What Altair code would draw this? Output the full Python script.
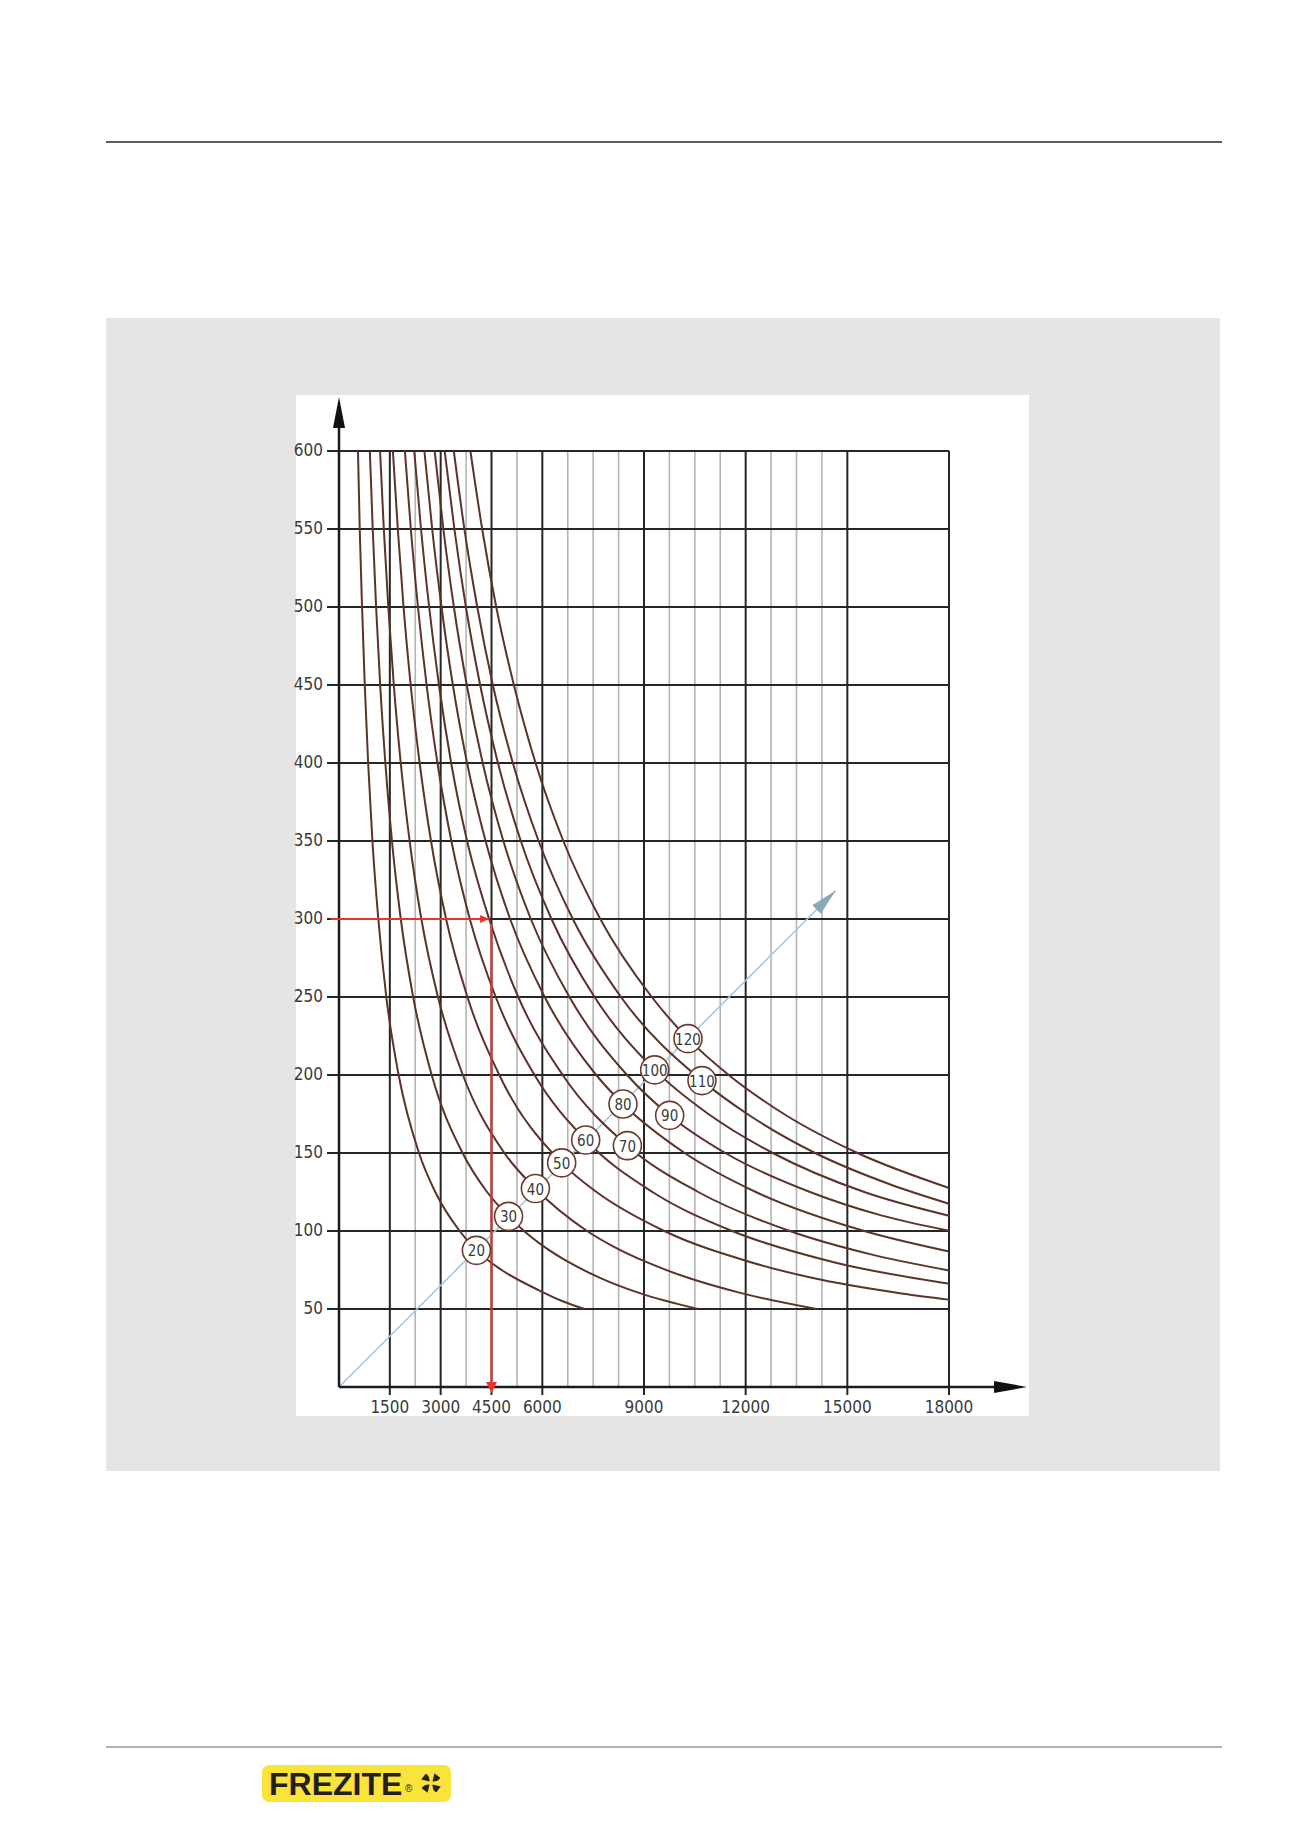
import altair as alt
import pandas as pd

# ---------------- data ----------------
SPEEDS = [20, 30, 40, 50, 60, 70, 80, 90, 100, 110, 120]

C20_D = [600, 550, 500, 450, 400, 350, 300, 250, 200, 150, 125, 100, 87.6, 75, 62, 55, 50]
C20_RPM = [560, 612, 680, 760, 860, 986, 1160, 1396, 1760, 2360, 2840, 3560, 4054, 4800, 5900, 6600, 7250]
C30_D = [600, 550, 500, 450, 400, 350, 300, 250, 200, 150, 125, 109.4, 100, 90, 80, 70, 60, 50]
C30_RPM = [910, 995, 1095, 1215, 1368, 1563, 1823, 2188, 2735, 3647, 4370, 5003, 5460, 6050, 6780, 7700, 8900, 10594]
C40_D = [600, 550, 500, 450, 400, 350, 300, 250, 200, 150, 127.2, 100, 90, 80, 70, 60, 50]
C40_RPM = [1212, 1322, 1455, 1617, 1822, 2084, 2430, 2920, 3655, 4880, 5796, 7320, 8100, 9080, 10300, 11900, 14088]
C50_D = [600, 550, 500, 450, 400, 350, 300, 250, 200, 143.7, 125, 100, 80, 70, 60, 56]
C50_RPM = [1590, 1735, 1905, 2115, 2380, 2715, 3160, 3790, 4730, 6571, 7600, 9600, 12150, 13950, 16600, 18000]
C60_D = [600, 550, 500, 450, 400, 350, 300, 250, 200, 158.3, 125, 100, 80, 66.2]
C60_RPM = [1944, 2120, 2330, 2585, 2905, 3315, 3860, 4625, 5770, 7279, 9250, 11600, 14600, 18000]
C70_D = [600, 550, 500, 450, 400, 350, 300, 250, 200, 154.7, 125, 100, 85, 74.7]
C70_RPM = [2220, 2420, 2660, 2950, 3310, 3780, 4430, 5290, 6600, 8510, 10600, 13300, 15700, 18000]
C80_D = [600, 550, 500, 450, 400, 350, 300, 250, 200, 181.4, 150, 125, 100, 86.9]
C80_RPM = [2520, 2750, 3025, 3360, 3780, 4325, 5050, 6070, 7590, 8380, 10200, 12300, 15500, 18000]
C90_D = [600, 550, 500, 450, 400, 350, 300, 250, 200, 174.1, 150, 125, 110, 100.2]
C90_RPM = [2823, 3080, 3390, 3770, 4240, 4850, 5660, 6800, 8500, 9758, 11400, 13900, 16000, 18000]
C100_D = [600, 550, 500, 450, 400, 350, 300, 250, 203.3, 175, 150, 125, 109.8]
C100_RPM = [3118, 3405, 3745, 4165, 4690, 5365, 6270, 7540, 9315, 10900, 12800, 15500, 18000]
C110_D = [600, 550, 500, 450, 400, 350, 300, 250, 196.4, 175, 150, 130, 117.5]
C110_RPM = [3387, 3700, 4080, 4540, 5130, 5890, 6900, 8320, 10711, 12050, 14050, 16250, 18000]
C120_D = [600, 550, 500, 450, 400, 350, 300, 250, 223.3, 200, 175, 150, 127.6]
C120_RPM = [3877, 4225, 4640, 5160, 5800, 6620, 7710, 9230, 10298, 11500, 13130, 15300, 18000]

CURVE_D = [C20_D, C30_D, C40_D, C50_D, C60_D, C70_D, C80_D, C90_D, C100_D, C110_D, C120_D]
CURVE_RPM = [C20_RPM, C30_RPM, C40_RPM, C50_RPM, C60_RPM, C70_RPM, C80_RPM, C90_RPM,
             C100_RPM, C110_RPM, C120_RPM]

LABEL_RPM = [4054, 5003, 5796, 6571, 7279, 8510, 8380, 9758, 9315, 10711, 10298]
LABEL_D = [87.6, 109.4, 127.2, 143.7, 158.3, 154.7, 181.4, 174.1, 203.3, 196.4, 223.3]

Y_TICKS = [50, 100, 150, 200, 250, 300, 350, 400, 450, 500, 550, 600]
X_TICKS = [1500, 3000, 4500, 6000, 9000, 12000, 15000, 18000]
X_MINOR = [2250, 3750, 5250, 6750, 7500, 8250, 9750, 10500, 11250, 12750, 13500, 14250]

DIAG_RPM = [0, 14657]
DIAG_D = [0, 318.3]

RED_H_RPM = [-250, 4430]
RED_H_D = [300, 300]
RED_V_RPM = [4500, 4500]
RED_V_D = [297, 0]

# ---------------- styling ----------------
W, H = 610, 936
NARROW = "Liberation Sans Narrow, DejaVu Sans Condensed, Arial Narrow, sans-serif"
BROWN = "#5c3329"
DARK = "#262626"
LIGHT = "#b4b4b4"
RED = "#e8322b"
TEXT = "#3a3a3a"

xs = alt.Scale(domain=[0, 18000], nice=False, zero=False)
ys = alt.Scale(domain=[0, 600], nice=False, zero=False)


def X(f="rpm"):
    return alt.X(f"{f}:Q", scale=xs, axis=None)


def Y(f="d"):
    return alt.Y(f"{f}:Q", scale=ys, axis=None)


one = pd.DataFrame({"k": [0]})


def arrow_path(length, half_width):
    r = length / 2.0
    hw = half_width / r
    return f"M0,0L{hw:.4f},2L{-hw:.4f},2Z", length * length


layers = []

# gray panel, white box, page rules
layers.append(alt.Chart(one).mark_rect(color="#e5e5e5").encode(
    x=alt.value(-233), x2=alt.value(881), y=alt.value(-133), y2=alt.value(1020)))
layers.append(alt.Chart(one).mark_rect(color="white").encode(
    x=alt.value(-43), x2=alt.value(690), y=alt.value(-56), y2=alt.value(965)))
layers.append(alt.Chart(one).mark_rule(color="#5e5e5e", strokeWidth=2).encode(
    x=alt.value(-233), x2=alt.value(883), y=alt.value(-309)))
layers.append(alt.Chart(one).mark_rule(color="#9a9a9a", strokeWidth=1.5).encode(
    x=alt.value(-233), x2=alt.value(883), y=alt.value(1296)))

# grid
minor_df = pd.DataFrame({"rpm": X_MINOR})
layers.append(alt.Chart(minor_df).mark_rule(color=LIGHT, strokeWidth=1.6).encode(
    x=X(), y=alt.value(0), y2=alt.value(H)))
major_df = pd.DataFrame({"rpm": X_TICKS, "label": [str(v) for v in X_TICKS]})
layers.append(alt.Chart(major_df).mark_rule(color=DARK, strokeWidth=2).encode(
    x=X(), y=alt.value(0), y2=alt.value(H + 8)))
ygrid_df = pd.DataFrame({"d": Y_TICKS, "label": [str(v) for v in Y_TICKS]})
layers.append(alt.Chart(ygrid_df).mark_rule(color=DARK, strokeWidth=2).encode(
    y=Y(), x=alt.value(-12), x2=alt.value(W)))

# diagonal guide
diag_df = pd.DataFrame({"rpm": DIAG_RPM, "d": DIAG_D})
layers.append(alt.Chart(diag_df).mark_line(color="#a8c8d8", strokeWidth=1.6).encode(
    x=X(), y=Y()))
p, s = arrow_path(27, 6)
layers.append(alt.Chart(diag_df.tail(1)).mark_point(
    shape=p, size=s, filled=True, color="#8ba8b8", opacity=1, angle=45).encode(x=X(), y=Y()))

# curves
rows = []
for sp, ds, rs in zip(SPEEDS, CURVE_D, CURVE_RPM):
    for dv, rv in zip(ds, rs):
        rows.append({"speed": sp, "rpm": rv, "d": dv})
curves_df = pd.DataFrame(rows)
layers.append(alt.Chart(curves_df).mark_line(
    color=BROWN, strokeWidth=2, interpolate="monotone").encode(
    x=X(), y=Y(), detail="speed:N", order="rpm:Q"))

# axis lines with arrows
layers.append(alt.Chart(one).mark_rule(color="#1a1a1a", strokeWidth=2.5).encode(
    x=alt.value(0), y=alt.value(H), y2=alt.value(-30)))
layers.append(alt.Chart(one).mark_rule(color="#1a1a1a", strokeWidth=2.5).encode(
    y=alt.value(H), x=alt.value(0), x2=alt.value(660)))
p, s = arrow_path(31, 6)
layers.append(alt.Chart(one).mark_point(
    shape=p, size=s, filled=True, color="#111111", opacity=1, angle=0).encode(
    x=alt.value(0), y=alt.value(-54)))
p, s = arrow_path(33, 6)
layers.append(alt.Chart(one).mark_point(
    shape=p, size=s, filled=True, color="#111111", opacity=1, angle=90).encode(
    x=alt.value(688), y=alt.value(H)))

# red example path
rh_df = pd.DataFrame({"rpm": RED_H_RPM, "d": RED_H_D})
layers.append(alt.Chart(rh_df).mark_line(color=RED, strokeWidth=2).encode(x=X(), y=Y()))
p, s = arrow_path(9, 4)
layers.append(alt.Chart(rh_df.tail(1)).mark_point(
    shape=p, size=s, filled=True, color=RED, opacity=1, angle=90).encode(x=X(), y=Y()))
rv_df = pd.DataFrame({"rpm": RED_V_RPM, "d": RED_V_D})
layers.append(alt.Chart(rv_df).mark_line(color=RED, strokeWidth=2).encode(x=X(), y=Y()))
p, s = arrow_path(11, 5.5)
layers.append(alt.Chart(rv_df.tail(1)).mark_point(
    shape=p, size=s, filled=True, color=RED, opacity=1, angle=180).encode(
    x=X(), y=alt.value(H + 6)))

# tick labels
layers.append(alt.Chart(ygrid_df).mark_text(
    font=NARROW, fontSize=17, color=TEXT, align="right", baseline="middle").encode(
    y=Y(), x=alt.value(-16), text="label:N"))
layers.append(alt.Chart(major_df).mark_text(
    font=NARROW, fontSize=17, color=TEXT, align="center", baseline="middle").encode(
    x=X(), y=alt.value(H + 21), text="label:N"))

# speed labels
lab_df = pd.DataFrame({"rpm": LABEL_RPM, "d": LABEL_D, "label": [str(v) for v in SPEEDS]})
layers.append(alt.Chart(lab_df).mark_point(
    shape="circle", size=784, filled=True, fill="white", stroke="#6a3b30",
    strokeWidth=1.6, opacity=1, strokeOpacity=1, fillOpacity=1).encode(x=X(), y=Y()))
layers.append(alt.Chart(lab_df).mark_text(
    font=NARROW, fontSize=15, color=TEXT, align="center", baseline="middle", dy=1).encode(
    x=X(), y=Y(), text="label:N"))

# footer logo
layers.append(alt.Chart(one).mark_rect(color="#fbe43a", cornerRadius=7).encode(
    x=alt.value(-77), x2=alt.value(112), y=alt.value(1314), y2=alt.value(1351)))
layers.append(alt.Chart(one).mark_text(
    text="FREZITE", font="Liberation Sans", fontWeight="bold", fontSize=32,
    color="#231f20", align="left", baseline="alphabetic").encode(
    x=alt.value(-70), y=alt.value(1344)))
layers.append(alt.Chart(one).mark_text(
    text="®", font="Liberation Sans", fontSize=10, color="#231f20",
    align="left", baseline="alphabetic").encode(x=alt.value(66), y=alt.value(1341)))
blade = "M0.15,-0.15L0.35,-1L0.95,-0.55Q0.8,-0.15 0.15,-0.15Z"
blades_df = pd.DataFrame({"a": [0, 90, 180, 270]})
layers.append(alt.Chart(blades_df).mark_point(
    shape=blade, size=380, filled=True, color="#2a2418", opacity=1).encode(
    x=alt.value(92), y=alt.value(1332), angle=alt.Angle("a:Q", scale=None)))

chart = alt.layer(*layers).properties(
    width=W, height=H,
    padding={"left": 331, "top": 443, "right": 343, "bottom": 444},
    autosize=alt.AutoSizeParams(type="none"),
    background="white",
).configure_view(stroke=None)

chart.save("out.html", embed_options={"renderer": "svg", "actions": False})
